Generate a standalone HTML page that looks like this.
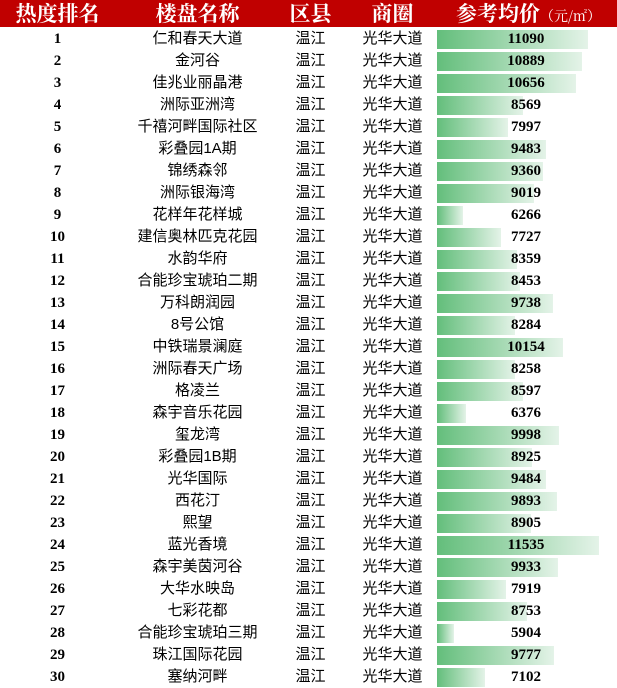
<!DOCTYPE html>
<html><head><meta charset="utf-8"><style>
body{margin:0;background:#fff;width:617px;height:688px;overflow:hidden;font-family:"Liberation Serif","Noto Serif CJK SC",serif}
#hdr{position:absolute;left:0;top:0;width:617px;height:27px;background:#c00000;color:#fff;font-weight:bold;font-size:21px}
.h{position:absolute;top:0;line-height:27px;text-align:center;font-family:"Noto Serif CJK SC",serif}
.c{position:absolute;line-height:22px;text-align:center;font-size:15px}
.cj{font-family:"Liberation Sans","Noto Sans CJK SC",sans-serif;font-size:15px}
.bar{position:absolute;height:19px;background:linear-gradient(to right,#63be7b,#e4f3e8)}
.num{font-weight:bold;font-family:"Liberation Serif",serif;font-size:15px}
</style></head><body>
<div id="hdr">
<div class="h" style="left:0;width:115px">热度排名</div>
<div class="h" style="left:115px;width:165px">楼盘名称</div>
<div class="h" style="left:278px;width:65px">区县</div>
<div class="h" style="left:345px;width:95px">商圈</div>
<div class="h" style="left:440px;width:177px">参考均价<span style="font-weight:normal;font-size:14px">（元/㎡）</span></div>
</div>
<div id="rows"></div>
<script>
const names=["仁和春天大道","金河谷","佳兆业丽晶港","洲际亚洲湾","千禧河畔国际社区","彩叠园1A期","锦绣森邻","洲际银海湾","花样年花样城","建信奥林匹克花园","水韵华府","合能珍宝琥珀二期","万科朗润园","8号公馆","中铁瑞景澜庭","洲际春天广场","格凌兰","森宇音乐花园","玺龙湾","彩叠园1B期","光华国际","西花汀","熙望","蓝光香境","森宇美茵河谷","大华水映岛","七彩花都","合能珍宝琥珀三期","珠江国际花园","塞纳河畔"];
const prices=[11090,10889,10656,8569,7997,9483,9360,9019,6266,7727,8359,8453,9738,8284,10154,8258,8597,6376,9998,8925,9484,9893,8905,11535,9933,7919,8753,5904,9777,7102];
const district="温江", area="光华大道";
const base=5244,k=0.02575,x0=437;
const R=document.getElementById('rows');
function px(v){return (v-base)*k;}
prices.forEach((p,i)=>{
 const y=28+i*22;
 const row=document.createElement('div');
 
 
 row.innerHTML=`<div class="c num" style="left:0;width:115px;top:${y}px">${i+1}</div>
<div class="c cj" style="left:115px;width:165px;top:${y}px">${names[i]}</div>
<div class="c cj" style="left:278px;width:65px;top:${y}px">${district}</div>
<div class="c cj" style="left:345px;width:95px;top:${y}px">${area}</div>
<div class="bar" style="left:${x0}px;top:${y+2}px;width:${px(p)}px"></div>
<div class="c num" style="left:440px;width:172px;top:${y}px">${p}</div>`;
 R.appendChild(row);
});
</script>
</body></html>
